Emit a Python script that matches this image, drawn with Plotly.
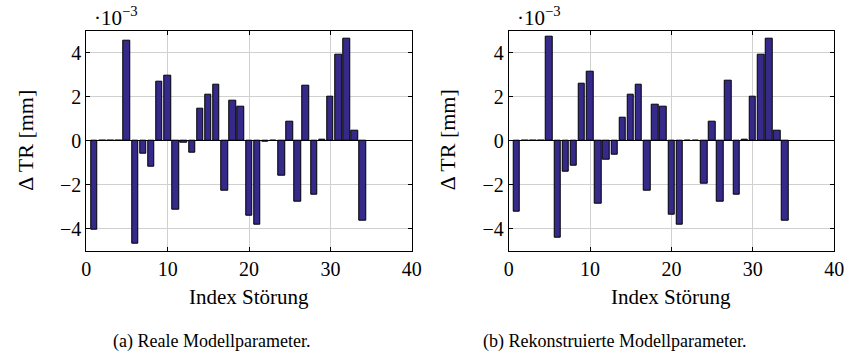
import plotly.graph_objects as go

index = list(range(1, 35))
real = [-4.05, 0, 0, 0, 4.53, -4.67, -0.61, -1.18, 2.67, 2.97,
        -3.15, -0.10, -0.55, 1.47, 2.10, 2.56, -2.26, 1.82, 1.56, -3.39,
        -3.83, -0.03, 0, -1.60, 0.85, -2.77, 2.52, -2.45, 0.06, 2.00,
        3.92, 4.62, 0.47, -3.62]
recon = [-3.21, 0, 0, 0, 4.73, -4.39, -1.39, -1.15, 2.59, 3.15,
         -2.85, -0.85, -0.64, 1.06, 2.10, 2.56, -2.26, 1.62, 1.56, -3.38,
         -3.83, -0.02, 0, -1.94, 0.88, -2.77, 2.73, -2.45, 0.06, 2.02,
         3.92, 4.62, 0.47, -3.62]
scale = 1e-3
x_ticks = [0, 10, 20, 30, 40]
y_ticks = [-4, -2, 0, 2, 4]
y_labels = ["\u22124", "\u22122", "0", "2", "4"]
x_title = "Index Störung"
y_title = "\u0394 TR [mm]"
captions = ["(a) Reale Modellparameter.", "(b) Rekonstruierte Modellparameter."]

FONT = "Liberation Serif"
BAR = "#35298a"
W, H = 858, 356

fig = go.Figure()
x_domains = [[82.7 / W, 414 / W], [512.7 / W, 844 / W]]
y_domain = [1 - 250.7 / H, 1 - 30.7 / H]

for i, vals in enumerate([real, recon]):
    xa = "x" if i == 0 else "x2"
    ya = "y" if i == 0 else "y2"
    fig.add_trace(go.Bar(
        x=index, y=[v * scale for v in vals], xaxis=xa, yaxis=ya,
        width=0.8, marker=dict(color=BAR, line=dict(color="black", width=1)),
        showlegend=False))

axis_common = dict(
    showline=True, linecolor="black", linewidth=1, mirror="ticks",
    ticks="inside", ticklen=4, tickcolor="black", tickwidth=1,
    showgrid=True, gridcolor="#d0d0d0", gridwidth=1,
    tickfont=dict(family=FONT, size=20, color="black"),
)

for i in range(2):
    sx = "" if i == 0 else "2"
    fig.update_layout(**{
        "xaxis" + sx: dict(axis_common, domain=x_domains[i], range=[0, 40],
                           tickvals=x_ticks, anchor="y" + sx, zeroline=False),
        "yaxis" + sx: dict(axis_common, domain=y_domain, range=[-5 * scale, 5 * scale],
                           tickvals=[v * scale for v in y_ticks], ticktext=y_labels,
                           anchor="x" + sx, zeroline=True, zerolinecolor="black",
                           zerolinewidth=1),
    })
    x0 = x_domains[i][0]
    cx = (x_domains[i][0] + x_domains[i][1]) / 2
    fig.add_annotation(text=x_title, xref="paper", yref="paper",
                       x=cx, y=1 - 297 / H, showarrow=False,
                       xanchor="center", yanchor="middle",
                       font=dict(family=FONT, size=21, color="black"))
    fig.add_annotation(text=y_title, xref="paper", yref="paper",
                       x=(20 + (i * 430)) / W, y=1 - 140 / H, textangle=-90,
                       showarrow=False, xanchor="center", yanchor="middle",
                       font=dict(family=FONT, size=22, color="black"))
    fig.add_annotation(text="\u00b710<sup>\u22123</sup>", xref="paper", yref="paper",
                       x=x0 + 6 / W, y=1 - 16 / H, showarrow=False,
                       xanchor="left", yanchor="middle",
                       font=dict(family=FONT, size=21, color="black"))
    fig.add_annotation(text=captions[i], xref="paper", yref="paper",
                       x=(210 if i == 0 else 620) / W, y=1 - 341 / H, showarrow=False,
                       xanchor="center", yanchor="middle",
                       font=dict(family=FONT, size=18, color="black"))

fig.update_layout(
    width=W, height=H, margin=dict(l=0, r=0, t=0, b=0),
    plot_bgcolor="white", paper_bgcolor="white", bargap=0,
    font=dict(family=FONT, color="black"),
)

fig.write_html("out.html")
